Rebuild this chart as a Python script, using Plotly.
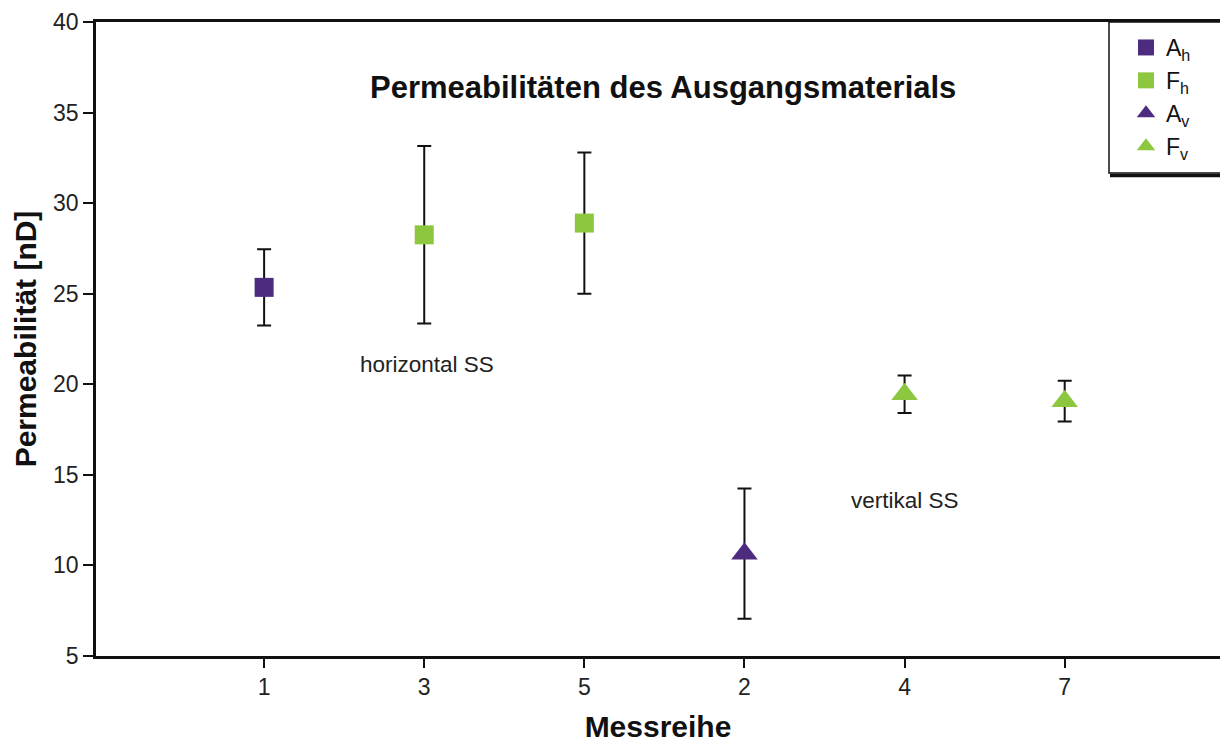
import plotly.graph_objects as go

# ---- data ----
categories = ["1", "3", "5", "2", "4", "7"]

ah_pos = [0]
ah_val = [25.35]
ah_err = [2.1]

fh_pos = [1, 2]
fh_val = [28.25, 28.9]
fh_err = [4.9, 3.9]

av_pos = [3]
av_val = [10.65]
av_err = [3.6]

fv_pos = [4, 5]
fv_val = [19.45, 19.07]
fv_err = [1.03, 1.13]

PURPLE = "#4d2c80"
GREEN = "#8dc63f"
FONT = "Liberation Sans, Arial, sans-serif"

W, H = 1220, 743
L, R, T, B = 96, 0, 22, 87
PW, PH = W - L - R, H - T - B

def px_x(x):
    return (x - L) / PW

def px_y(y):
    return (H - B - y) / PH

fig = go.Figure()

def add(pos, val, err, name, color, symbol, size):
    fig.add_trace(go.Scatter(
        x=pos, y=val, mode="markers", name=name,
        marker=dict(symbol=symbol, color=color, size=size, line=dict(width=0)),
        error_y=dict(type="data", array=err, visible=True, color="#111111",
                     thickness=2, width=7),
    ))

add(ah_pos, ah_val, ah_err, "A<sub>h</sub>", PURPLE, "square", 19)
add(fh_pos, fh_val, fh_err, "F<sub>h</sub>", GREEN, "square", 19)
add(av_pos, av_val, av_err, "A<sub>v</sub>", PURPLE, "triangle-up", 23)
add(fv_pos, fv_val, fv_err, "F<sub>v</sub>", GREEN, "triangle-up", 23)

fig.add_annotation(x=1.02, y=21.1, text="horizontal SS", showarrow=False,
                   font=dict(family=FONT, size=22.5, color="#222"))
fig.add_annotation(x=4.0, y=13.6, text="vertikal SS", showarrow=False,
                   font=dict(family=FONT, size=22.5, color="#222"))
fig.add_annotation(x=px_x(663), y=px_y(68), xref="paper", yref="paper",
                   text="<b>Permeabilitäten des Ausgangsmaterials</b>",
                   showarrow=False, font=dict(family=FONT, size=31, color="#111"))

# legend frame with drop shadow at bottom
fig.add_shape(type="rect", xref="paper", yref="paper",
              x0=px_x(1109), x1=px_x(1240), y0=px_y(173), y1=px_y(22),
              line=dict(color="#111", width=1.5), fillcolor="white", layer="below")
fig.add_shape(type="line", xref="paper", yref="paper",
              x0=px_x(1110), x1=px_x(1240), y0=px_y(175.5), y1=px_y(175.5),
              line=dict(color="#111", width=3.5))

fig.update_layout(
    width=W, height=H,
    margin=dict(l=L, r=R, t=T, b=B),
    paper_bgcolor="white", plot_bgcolor="rgba(0,0,0,0)",
    font=dict(family=FONT, color="#111"),
    showlegend=True,
    legend=dict(x=px_x(1110), y=px_y(26), xanchor="left", yanchor="top",
                borderwidth=0, bgcolor="rgba(0,0,0,0)",
                font=dict(family=FONT, size=23), tracegroupgap=0,
                indentation=16),
    xaxis=dict(
        range=[-1.05, 5.97], tickmode="array", tickvals=list(range(len(categories))),
        ticktext=categories, showgrid=False, zeroline=False,
        showline=True, linecolor="#111", linewidth=2.5, mirror=True,
        ticks="outside", ticklen=9, tickwidth=2, tickcolor="#111",
        tickfont=dict(family=FONT, size=23, color="#222"),
        title=dict(text="<b>Messreihe</b>", font=dict(family=FONT, size=30, color="#111"),
                   standoff=20),
    ),
    yaxis=dict(
        range=[5, 40], tickvals=[5, 10, 15, 20, 25, 30, 35, 40],
        showgrid=False, zeroline=False,
        showline=True, linecolor="#111", linewidth=2.5,
        ticks="outside", ticklen=10, tickwidth=2, tickcolor="#111",
        tickfont=dict(family=FONT, size=23, color="#222"),
        title=dict(text="<b>Permeabilität [nD]</b>", font=dict(family=FONT, size=30, color="#111"),
                   standoff=8),
    ),
)

fig.write_html("out.html")
